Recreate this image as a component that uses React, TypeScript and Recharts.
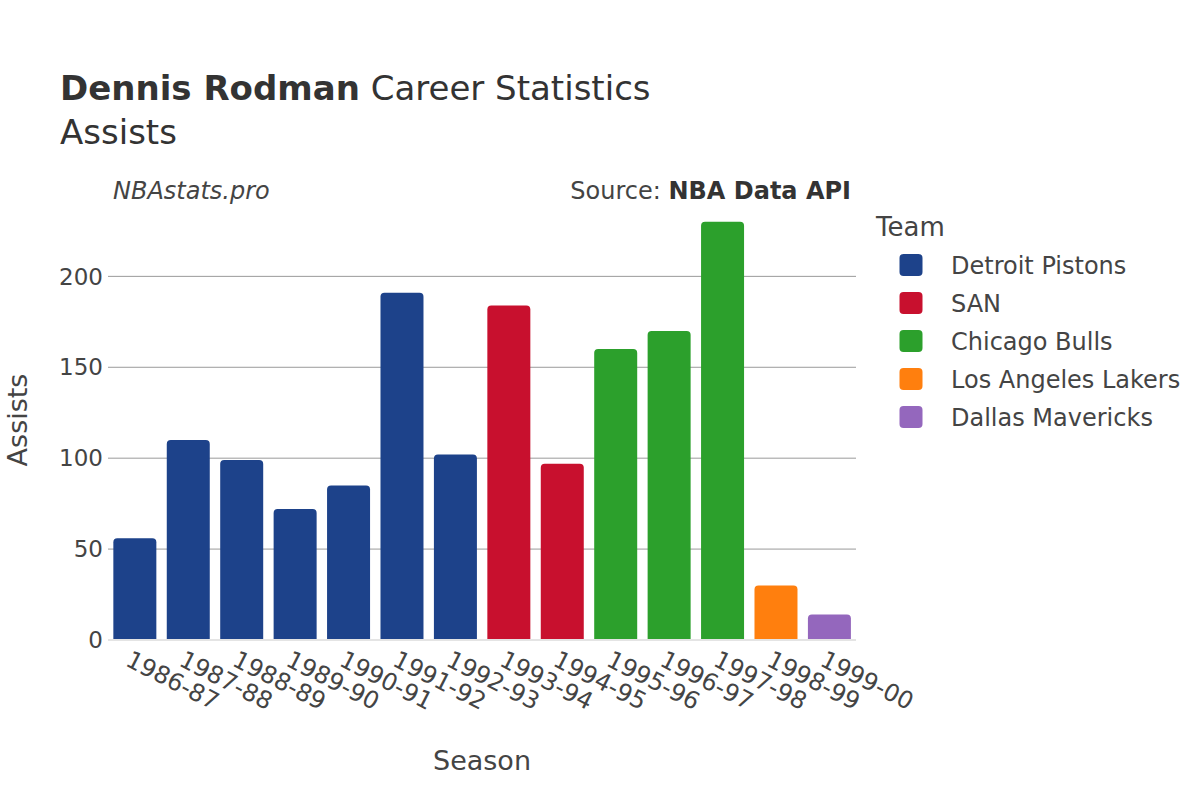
import { BarChart, Bar, Cell, XAxis, YAxis, CartesianGrid } from 'recharts';

const SEASONS = [
  '1986-87', '1987-88', '1988-89', '1989-90', '1990-91', '1991-92', '1992-93',
  '1993-94', '1994-95', '1995-96', '1996-97', '1997-98', '1998-99', '1999-00',
];
const ASSISTS = [56, 110, 99, 72, 85, 191, 102, 184, 97, 160, 170, 230, 30, 14];
const SEASON_TEAM = [
  'Detroit Pistons', 'Detroit Pistons', 'Detroit Pistons', 'Detroit Pistons',
  'Detroit Pistons', 'Detroit Pistons', 'Detroit Pistons', 'SAN', 'SAN',
  'Chicago Bulls', 'Chicago Bulls', 'Chicago Bulls', 'Los Angeles Lakers', 'Dallas Mavericks',
];
const TEAMS = ['Detroit Pistons', 'SAN', 'Chicago Bulls', 'Los Angeles Lakers', 'Dallas Mavericks'];
const TEAM_COLORS = ['#1d428a', '#c8102e', '#2ca02c', '#ff7f0e', '#9467bd'];
const Y_TICKS = [0, 50, 100, 150, 200];

const data = SEASONS.map((season, i) => ({ season, assists: ASSISTS[i], team: SEASON_TEAM[i] }));

const FONT = '"DejaVu Sans", sans-serif';
const TEXT = '#444';

function SeasonTick({ x, y, payload }: any) {
  return (
    <text
      transform={`translate(${x - 10.5},${y + 25}) rotate(27)`}
      textAnchor="start"
      fontSize={24}
      fontFamily={FONT}
      fill={TEXT}
    >
      {payload.value}
    </text>
  );
}

export default function App() {
  return (
    <div style={{ position: 'absolute', left: 0, top: 0, width: 1200, height: 800, background: '#fff' }}>
      <BarChart
        width={1200}
        height={800}
        data={data}
        margin={{ top: 200, right: 344, bottom: 60, left: 8 }}
        barCategoryGap="10%"
      >
        <CartesianGrid
          vertical={false}
          horizontalValues={Y_TICKS.filter((t) => t > 0)}
          stroke="#9a9a9a"
          strokeWidth={1}
        />
        <XAxis
          dataKey="season"
          height={100}
          interval={0}
          tickLine={false}
          tickSize={0}
          tickMargin={0}
          axisLine={{ stroke: '#e4e4e4', strokeWidth: 2 }}
          tick={<SeasonTick />}
        />
        <YAxis
          width={100}
          domain={[0, 242]}
          ticks={Y_TICKS}
          tickLine={false}
          tickSize={0}
          tickMargin={5}
          axisLine={false}
          tick={{ fontSize: 23, fontFamily: FONT, fill: TEXT }}
        />
        <Bar dataKey="assists" radius={[4, 4, 0, 0]} isAnimationActive={false}>
          {data.map((d, i) => (
            <Cell key={`cell-${i}`} fill={TEAM_COLORS[TEAMS.indexOf(d.team)]} />
          ))}
        </Bar>
      </BarChart>

      <svg
        width={1200}
        height={800}
        style={{ position: 'absolute', left: 0, top: 0, pointerEvents: 'none' }}
        fontFamily={FONT}
      >
        <text x={60} y={100} fontSize={34} fill="#333">
          <tspan fontWeight="bold">Dennis Rodman</tspan>
          <tspan> Career Statistics</tspan>
        </text>
        <text x={60} y={144} fontSize={34} fill="#333">Assists</text>

        <text x={113} y={199} fontSize={24} fontStyle="italic" fill={TEXT}>NBAstats.pro</text>
        <text x={851} y={199} fontSize={24} textAnchor="end" fill={TEXT}>
          <tspan>Source: </tspan>
          <tspan fontWeight="bold" fill="#333">NBA Data API</tspan>
        </text>

        <text x={27} y={420} fontSize={27} textAnchor="middle" transform="rotate(-90 27 420)" fill={TEXT}>
          Assists
        </text>
        <text x={482} y={770} fontSize={27} textAnchor="middle" fill={TEXT}>Season</text>

        <text x={876} y={236} fontSize={26} fill={TEXT}>Team</text>
        {TEAMS.map((team, i) => {
          const cy = 265 + i * 38;
          return (
            <g key={team}>
              <rect x={899.5} y={cy - 11} width={23} height={22} rx={4} fill={TEAM_COLORS[i]} />
              <text x={951} y={cy + 8.5} fontSize={24} fill={TEXT}>{team}</text>
            </g>
          );
        })}
      </svg>
    </div>
  );
}
